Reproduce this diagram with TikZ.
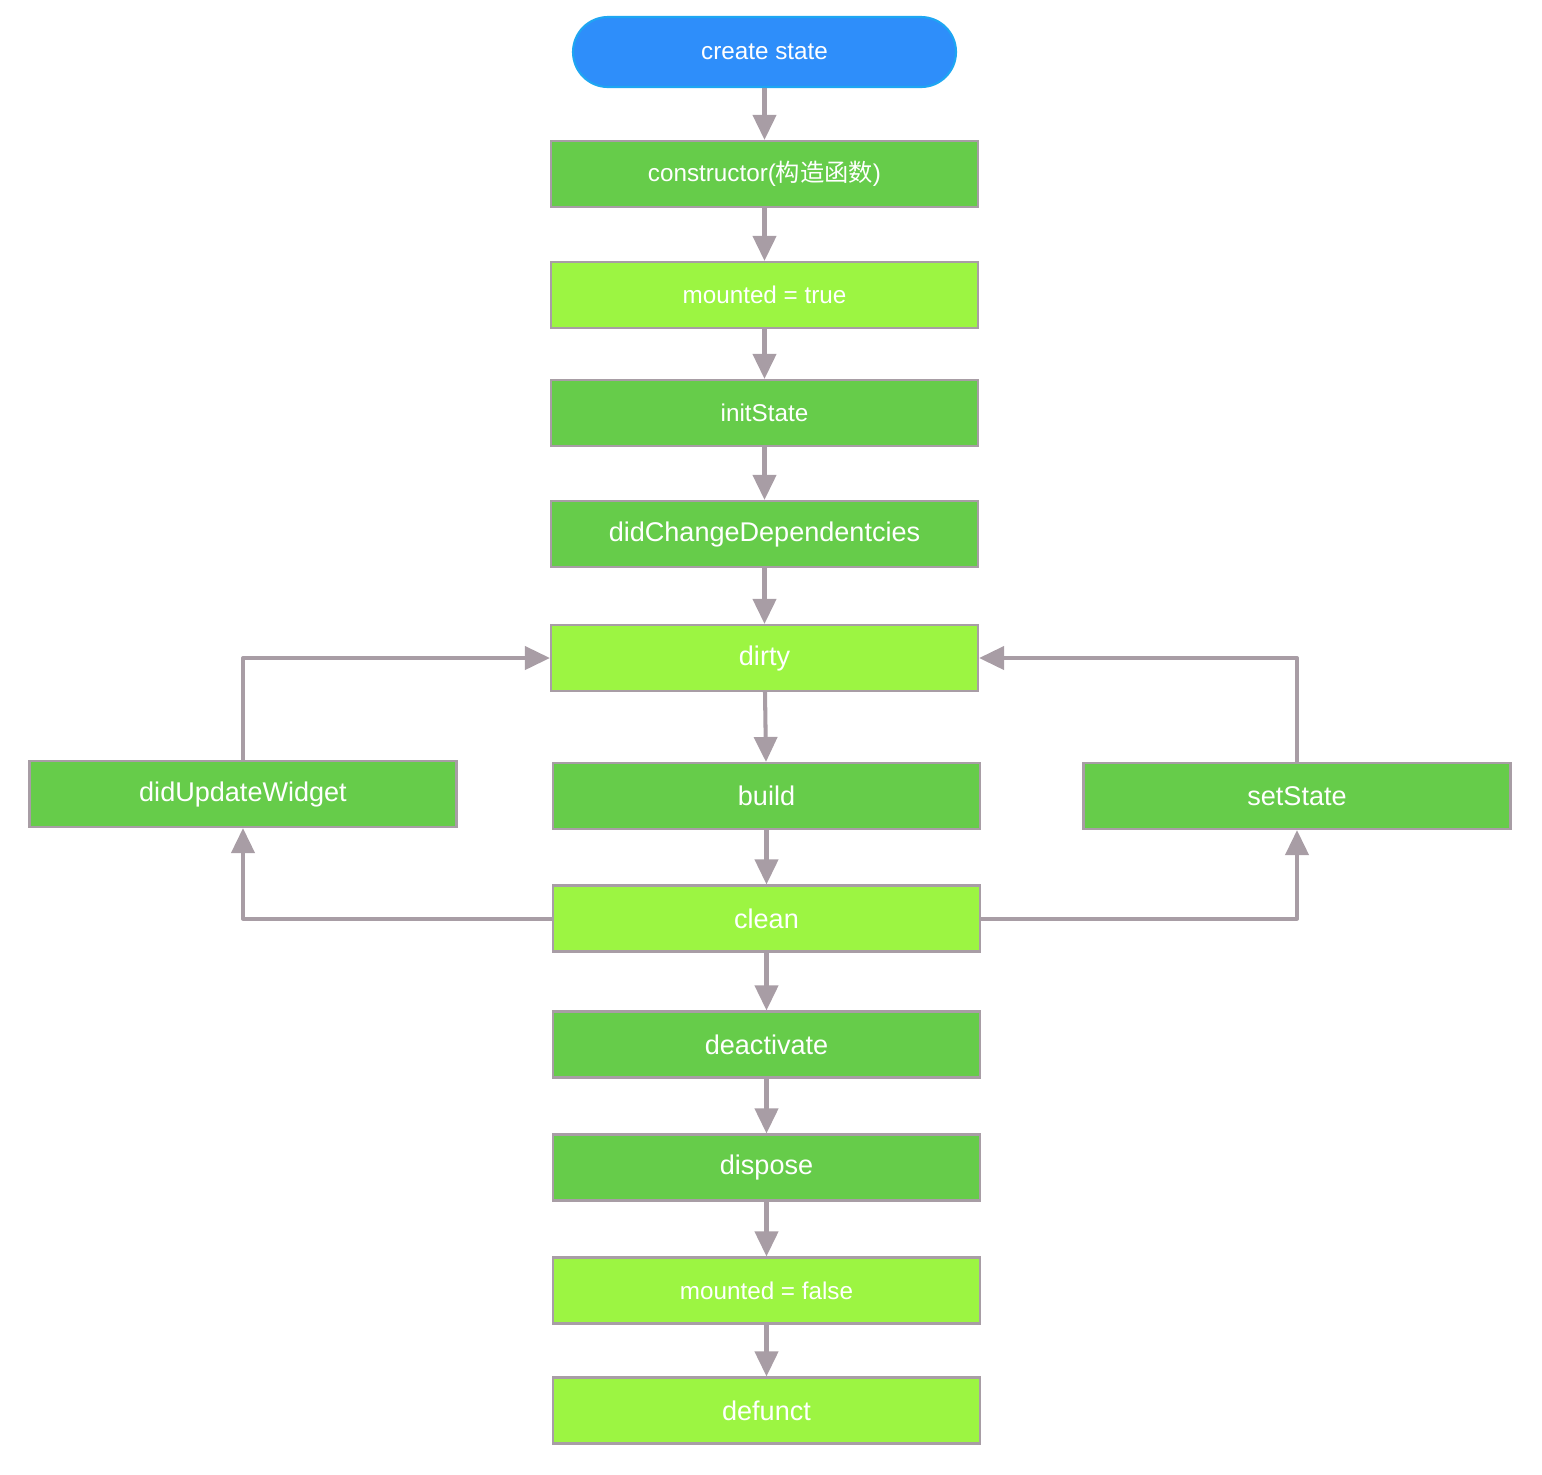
\documentclass[tikz,border=0pt]{standalone}
\usepackage{fontspec}
\setmainfont{Liberation Sans}
\newfontfamily\cjk{Noto Sans CJK SC}
\usepackage{xcolor}
\usepackage{tikz}
\usetikzlibrary{arrows.meta}
\definecolor{startblue}{HTML}{2E8EFA}
\definecolor{startedge}{HTML}{1EA6F2}
\definecolor{darkgreen}{HTML}{66CC4A}
\definecolor{lightgreen}{HTML}{9CF542}
\definecolor{edgegray}{HTML}{A89DA5}
\begin{document}
\begin{tikzpicture}[
		box/.style = {draw = edgegray, line width = 0.6pt, text = white, minimum width = 4.27cm, minimum height = 0.66cm, inner sep = 0pt},
		darkbox/.style = {box, fill = darkgreen},
		lightbox/.style = {box, fill = lightgreen},
		big/.style = {font = \fontsize{7.7}{9}\selectfont},
		small/.style = {font = \fontsize{6.9}{8}\selectfont},
		flow/.style = {draw = edgegray, line width = 1.15pt, line join = round, -{Triangle[length = 0.25cm, width = 0.23cm]}}
	]
		\useasboundingbox (0,0) rectangle (15.42,-14.74);
		\node[box, small, fill = startblue, draw = startedge, minimum width = 3.83cm, minimum height = 0.70cm, rounded corners = 0.35cm] (start) at (7.645,-0.52) {create state};
		\node[darkbox, small] (ctor) at (7.645,-1.74) {constructor({\cjk 构造函数})};
		\node[lightbox, small] (mtrue) at (7.645,-2.95) {mounted = true};
		\node[darkbox, small] (init) at (7.645,-4.13) {initState};
		\node[darkbox, big] (dcd) at (7.645,-5.34) {didChangeDependentcies};
		\node[lightbox, big] (dirty) at (7.645,-6.58) {dirty};
		\node[darkbox, big] (duw) at (2.43,-7.94) {didUpdateWidget};
		\node[darkbox, big] (build) at (7.665,-7.96) {build};
		\node[darkbox, big] (sets) at (12.97,-7.96) {setState};
		\node[lightbox, big] (clean) at (7.665,-9.185) {clean};
		\node[darkbox, big] (deact) at (7.665,-10.445) {deactivate};
		\node[darkbox, big] (dispose) at (7.665,-11.675) {dispose};
		\node[lightbox, small] (mfalse) at (7.665,-12.905) {mounted = false};
		\node[lightbox, big] (defunct) at (7.665,-14.105) {defunct};
		% main chain
		\foreach \a/\b in {start/ctor, ctor/mtrue, mtrue/init, init/dcd, dcd/dirty, dirty/build, build/clean, clean/deact, deact/dispose, dispose/mfalse, mfalse/defunct}{
			\draw[flow] (\a) -- (\b);
		}
		% loops back to dirty
		\draw[flow] (clean.west) -| (duw.south);
		\draw[flow] (duw.north) |- (dirty.west);
		\draw[flow] (clean.east) -| (sets.south);
		\draw[flow] (sets.north) |- (dirty.east);
	\end{tikzpicture}
\end{document}
